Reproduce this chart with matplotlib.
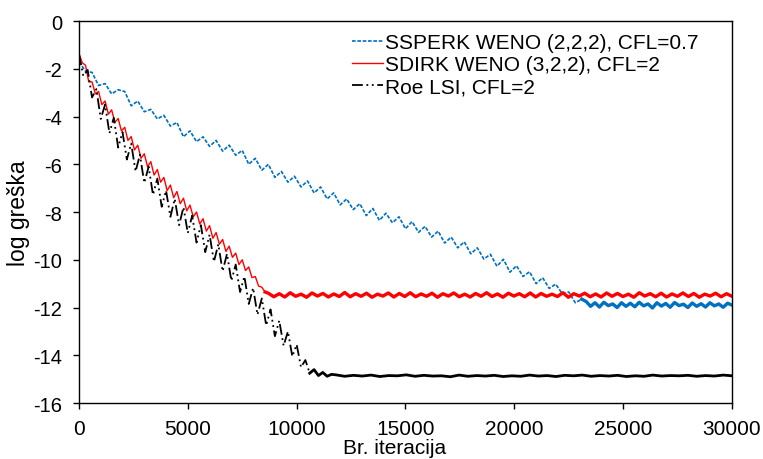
import matplotlib
matplotlib.use('Agg')
import matplotlib.pyplot as plt
import numpy as np

plt.rcParams['font.family'] = ['Liberation Sans', 'DejaVu Sans']
plt.rcParams['axes.unicode_minus'] = False

# SSPERK WENO (2,2,2), CFL=0.7 - spust pa plato
blue_x = np.arange(0, 23101, 300)
blue_y = [-1.70, -2.10, -2.15, -2.70, -2.62, -3.05, -2.88, -2.95, -3.55, -3.35,
          -3.80, -3.70, -4.10, -3.95, -4.40, -4.25, -4.85, -4.60, -5.05, -4.85,
          -5.25, -5.00, -5.45, -5.20, -5.62, -5.42, -6.00, -5.75, -6.25, -6.00,
          -6.55, -6.30, -6.75, -6.50, -6.95, -6.70, -7.20, -6.95, -7.45, -7.20,
          -7.70, -7.45, -7.90, -7.65, -8.15, -7.85, -8.35, -8.05, -8.45, -8.20,
          -8.70, -8.40, -8.85, -8.60, -9.05, -8.80, -9.30, -9.05, -9.50, -9.25,
          -9.75, -9.50, -9.97, -9.77, -10.27, -9.98, -10.52, -10.25, -10.70, -10.50,
          -11.00, -10.75, -11.20, -11.02, -11.42, -11.35, -11.80, -11.65]
blue_plato_x = np.linspace(23300, 30000, 34)
blue_plato_y = [-11.75, -11.95, -11.80, -11.98, -11.78, -11.92, -11.85, -12.00, -11.80, -11.95,
                -11.82, -11.97, -11.78, -11.93, -11.85, -12.02, -11.80, -11.94, -11.83, -11.99,
                -11.79, -11.92, -11.86, -12.00, -11.81, -11.95, -11.84, -11.98, -11.80, -11.93,
                -11.85, -11.99, -11.82, -11.90]

# SDIRK WENO (3,2,2), CFL=2
red_x = np.arange(0, 8551, 150)
red_y = [-1.35, -1.75, -1.85, -2.55, -2.55, -3.05, -2.95, -3.50, -3.35, -3.90,
         -3.72, -4.25, -4.08, -4.60, -4.45, -5.00, -4.84, -5.40, -5.20, -5.75,
         -5.56, -6.10, -5.89, -6.45, -6.22, -6.75, -6.55, -7.10, -6.87, -7.40,
         -7.14, -7.65, -7.42, -7.95, -7.71, -8.20, -8.00, -8.50, -8.28, -8.80,
         -8.57, -9.10, -8.86, -9.35, -9.15, -9.65, -9.43, -9.90, -9.72, -10.20,
         -10.00, -10.45, -10.30, -10.75, -10.70, -11.10, -11.15, -11.35]
red_plato_x = np.linspace(8700, 30000, 86)
red_plato_y = [-11.40, -11.55, -11.42, -11.56, -11.38, -11.53, -11.44, -11.57, -11.39, -11.52,
               -11.41, -11.56, -11.43, -11.54, -11.37, -11.55, -11.42, -11.53, -11.40, -11.57,
               -11.44, -11.52, -11.39, -11.56, -11.41, -11.54, -11.38, -11.55, -11.43, -11.53,
               -11.40, -11.57, -11.42, -11.52, -11.39, -11.55, -11.44, -11.56, -11.41, -11.53,
               -11.38, -11.54, -11.43, -11.57, -11.40, -11.52, -11.42, -11.55, -11.39, -11.56,
               -11.41, -11.53, -11.44, -11.54, -11.38, -11.57, -11.42, -11.52, -11.40, -11.55,
               -11.43, -11.56, -11.39, -11.53, -11.41, -11.54, -11.44, -11.57, -11.38, -11.52,
               -11.42, -11.55, -11.40, -11.56, -11.43, -11.53, -11.39, -11.54, -11.41, -11.57,
               -11.44, -11.52, -11.40, -11.55, -11.42, -11.53]

# Roe LSI, CFL=2
black_x = np.arange(0, 11601, 200)
black_y = [-1.40, -2.30, -2.05, -3.20, -2.85, -4.10, -3.50, -4.70, -4.05, -5.30,
           -4.65, -5.80, -5.13, -6.30, -5.60, -6.78, -6.10, -7.28, -6.60, -7.78,
           -7.10, -8.20, -7.45, -8.55, -7.80, -8.88, -8.15, -9.28, -8.55, -9.68,
           -8.95, -10.08, -9.35, -10.48, -9.75, -10.88, -10.20, -11.35, -10.70, -11.85,
           -11.18, -12.30, -11.62, -12.75, -12.08, -13.20, -12.55, -13.60, -13.00, -14.05,
           -13.55, -14.50, -14.20, -14.75, -14.60, -14.85, -14.72, -14.88, -14.80]
black_plato_x = np.linspace(11800, 30000, 46)
black_plato_y = [-14.82, -14.88, -14.84, -14.87, -14.83, -14.89, -14.85, -14.86, -14.82, -14.88,
                 -14.84, -14.87, -14.86, -14.90, -14.83, -14.88, -14.85, -14.87, -14.84, -14.89,
                 -14.86, -14.88, -14.83, -14.87, -14.85, -14.89, -14.84, -14.86, -14.83, -14.88,
                 -14.85, -14.87, -14.84, -14.89, -14.86, -14.88, -14.83, -14.87, -14.85, -14.86,
                 -14.84, -14.88, -14.85, -14.87, -14.83, -14.86]

labels = ['SSPERK WENO (2,2,2), CFL=0.7', 'SDIRK WENO (3,2,2), CFL=2', 'Roe LSI, CFL=2']
c_blue, c_red, c_black = '#0070C0', '#FF0000', 'black'

fig = plt.figure(figsize=(7.63, 4.60), dpi=100)
ax = fig.add_axes([0.1035, 0.1217, 0.8559, 0.8304])

# spust (isprekidano) + plato (gust sum, deblja linija)
ax.plot(blue_x, blue_y, color=c_blue, lw=1.2, dashes=(2.2, 1.0), label=labels[0])
ax.plot(np.r_[blue_x[-1], blue_plato_x], [blue_y[-1]] + blue_plato_y,
        color=c_blue, lw=2.4)
ax.plot(red_x, red_y, color=c_red, lw=1.0, label=labels[1])
ax.plot(np.r_[red_x[-1], red_plato_x], [red_y[-1]] + red_plato_y,
        color=c_red, lw=2.4)
k = 53  # kraj spusta za Roe LSI (10600 it.)
ax.plot(black_x[:k + 1], black_y[:k + 1], color=c_black, lw=1.3,
        dashes=(6, 2, 1, 2, 1, 2), label=labels[2])
ax.plot(np.r_[black_x[k:], black_plato_x], black_y[k:] + black_plato_y,
        color=c_black, lw=2.0)

ax.set_xlim(0, 30000)
ax.set_ylim(-16, 0)
ax.set_xticks(range(0, 30001, 5000))
ax.set_yticks(range(-16, 1, 2))
ax.tick_params(direction='out', length=4.3, width=1)
ax.tick_params(axis='x', labelsize=15, pad=7)
ax.tick_params(axis='y', labelsize=14.5, pad=8)
for s in ax.spines.values():
    s.set_linewidth(1.0)

ax.set_xlabel('Br. iteracija', fontsize=15)
ax.xaxis.set_label_coords(0.484, -0.092, transform=ax.transAxes)
ax.set_ylabel('log greška', fontsize=16.5, labelpad=2)

ax.legend(loc='upper left', bbox_to_anchor=(0.418, 0.969), frameon=False,
          fontsize=15, handlelength=1.5, handletextpad=0.1,
          borderpad=0, borderaxespad=0, labelspacing=0.15)

fig.savefig('out.png', dpi=100)
